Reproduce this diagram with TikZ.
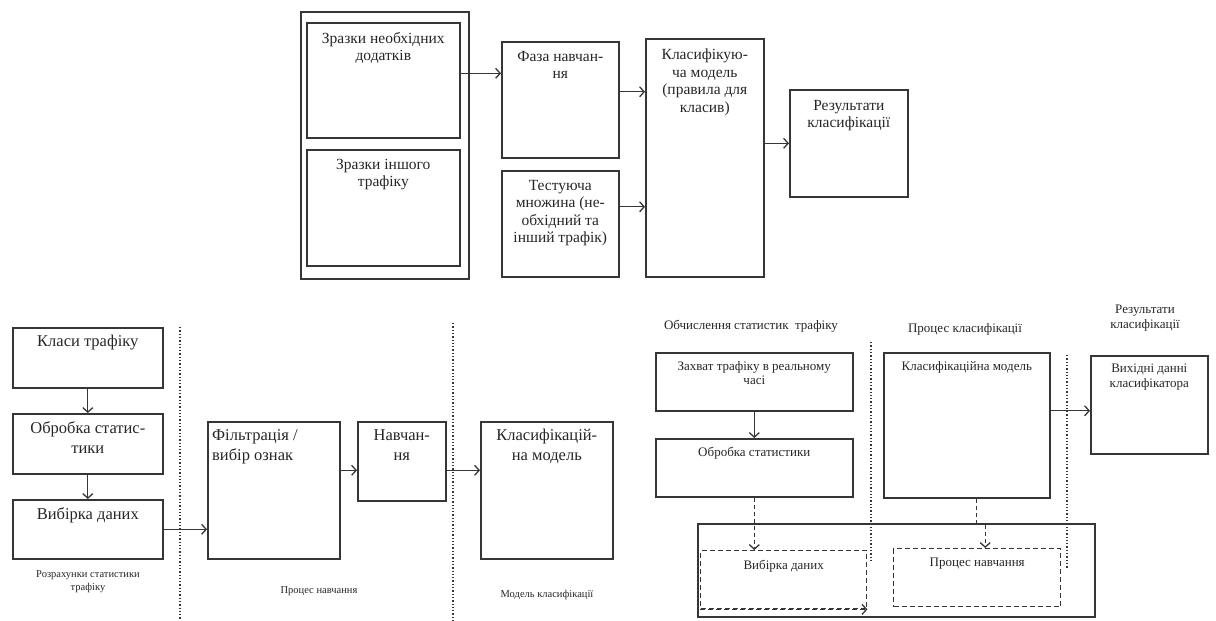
\documentclass[tikz,border=0pt]{standalone}
\usepackage{fontspec}
\setmainfont{Liberation Serif}
\usetikzlibrary{arrows.meta}
\definecolor{liniya}{HTML}{363636}
\definecolor{tekstc}{HTML}{262626}
\newcommand{\shriftverh}{\fontsize{15.5}{17.5}\selectfont}
\newcommand{\shriftlev}{\fontsize{16.5}{20}\selectfont}
\newcommand{\shriftprav}{\fontsize{13}{14.5}\selectfont}
\newcommand{\shriftmal}{\fontsize{10.5}{13}\selectfont}
\tikzset{
    blok/.style={draw=liniya, line width=1.6pt, anchor=north west, inner sep=0pt},
    pblok/.style={blok, line width=1.4pt, dash pattern=on 5pt off 3pt},
    napys/.style={anchor=north, align=center, inner sep=0pt, text=tekstc},
    pidpys/.style={anchor=base, align=center, inner sep=0pt, text=tekstc},
    strilka/.style={draw=liniya, line width=1.3pt, -{Straight Barb[length=4.5pt,width=10pt]}},
    rozdil/.style={draw=liniya, line width=1.3pt, dotted}
}

\begin{document}
\begin{tikzpicture}[x=1pt,y=-1pt]
           \useasboundingbox (0,0) rectangle (1216,621);
           % upper scheme
           \node[blok,minimum width=168pt,minimum height=267pt] (ramka) at (300,11) {};
           \node[blok,minimum width=153pt,minimum height=115pt] (zr1) at (306,22) {};
           \node[blok,minimum width=153pt,minimum height=116pt] (zr2) at (306,149) {};
           \node[blok,minimum width=117pt,minimum height=116pt] (faza) at (501,41) {};
           \node[blok,minimum width=117pt,minimum height=106pt] (test) at (501,170) {};
           \node[blok,minimum width=118pt,minimum height=238pt] (klas) at (645,38) {};
           \node[blok,minimum width=118pt,minimum height=107pt] (rez) at (789,89) {};
           \node[napys,font=\shriftverh] (zr1t) at ([yshift=-10pt]zr1.north) {Зразки необхідних\\додатків};
           \node[napys,font=\shriftverh] (zr2t) at ([yshift=-10pt]zr2.north) {Зразки іншого\\трафіку};
           \node[napys,font=\shriftverh] (fazat) at ([yshift=-10pt]faza.north) {Фаза навчан-\\ня};
           \node[napys,font=\shriftverh] (testt) at ([yshift=-10pt]test.north) {Тестуюча\\множина (не-\\обхідний та\\інший трафік)};
           \node[napys,font=\shriftverh] (klast) at ([yshift=-11pt]klas.north) {Класифікую-\\ча модель\\(правила для\\класив)};
           \node[napys,font=\shriftverh] (rezt) at ([yshift=-11pt]rez.north) {Результати\\класифікації};
           \draw[strilka] ([yshift=7pt]zr1.east) -- ([yshift=7pt]zr1.east -| faza.west);
           \draw[strilka] ([yshift=8pt]faza.east) -- ([yshift=8pt]faza.east -| klas.west);
           \draw[strilka] ([yshift=17pt]test.east) -- ([yshift=17pt]test.east -| klas.west);
           \draw[strilka] (rez.west -| klas.east) -- (rez.west);
           % lower left scheme
           \node[blok,minimum width=150pt,minimum height=60pt] (klasy) at (12,327) {};
           \node[blok,minimum width=150pt,minimum height=60pt] (obrob) at (12,413) {};
           \node[blok,minimum width=150pt,minimum height=59pt] (vybir) at (12,499) {};
           \node[blok,minimum width=132pt,minimum height=137pt] (filtr) at (207,421) {};
           \node[blok,minimum width=88pt,minimum height=79pt] (navch) at (357,421) {};
           \node[blok,minimum width=132pt,minimum height=137pt] (model) at (480,421) {};
           \node[napys,font=\shriftlev] (klasyt) at ([yshift=-8pt]klasy.north) {Класи трафіку};
           \node[napys,font=\shriftlev] (obrobt) at ([yshift=-8pt]obrob.north) {Обробка статис-\\тики};
           \node[napys,font=\shriftlev] (vybirt) at ([yshift=-8pt]vybir.north) {Вибірка даних};
           \node[napys,font=\shriftlev,anchor=north west,align=left] (filtrt) at ([xshift=5pt,yshift=-8pt]filtr.north west) {Фільтрація /\\вибір ознак};
           \node[napys,font=\shriftlev] (navcht) at ([yshift=-8pt]navch.north) {Навчан-\\ня};
           \node[napys,font=\shriftlev] (modelt) at ([yshift=-8pt]model.north) {Класифікацій-\\на модель};
           \draw[strilka] (klasy.south) -- (obrob.north);
           \draw[strilka] (obrob.south) -- (vybir.north);
           \draw[strilka] (vybir.east) -- (vybir.east -| filtr.west);
           \draw[strilka] ([yshift=-9pt]navch.west -| filtr.east) -- ([yshift=-9pt]navch.west);
           \draw[strilka] ([yshift=-9pt]navch.east) -- ([yshift=-9pt]navch.east -| model.west);
           \draw[rozdil] (180,327) -- (180,621);
           \draw[rozdil] (453,323) -- (453,621);
           \node[pidpys,font=\shriftmal] (rozrakh) at (88,590) {Розрахунки статистики\\трафіку};
           \node[pidpys,font=\shriftmal] (procn) at (319,593) {Процес навчання};
           \node[pidpys,font=\shriftmal] (modkl) at (547,597) {Модель класифікації};
           % lower right scheme
           \node[pidpys,font=\shriftprav] (obchysl) at (751,329) {Обчислення статистик\ \ трафіку};
           \node[pidpys,font=\shriftprav] (procklas) at (965,332) {Процес класифікації};
           \node[pidpys,font=\shriftprav] (rezklas) at (1145,328) {Результати\\класифікації};
           \node[blok,minimum width=197pt,minimum height=58pt] (zakhvat) at (655,352) {};
           \node[blok,minimum width=197pt,minimum height=58pt] (obst) at (655,438) {};
           \node[blok,minimum width=166pt,minimum height=145pt] (klmod) at (883,352) {};
           \node[blok,minimum width=117pt,minimum height=98pt] (vykhid) at (1090,355) {};
           \node[blok,minimum width=397pt,minimum height=93pt] (ramka2) at (697,523) {};
           \node[pblok,minimum width=166pt,minimum height=58pt] (vybd) at (700,550) {};
           \node[pblok,minimum width=167pt,minimum height=58pt] (navp) at (893,548) {};
           \node[napys,font=\shriftprav] (zakhvatt) at ([yshift=-9pt]zakhvat.north) {Захват трафіку в реальному\\часі};
           \node[napys,font=\shriftprav] (obstt) at ([yshift=-9pt]obst.north) {Обробка статистики};
           \node[napys,font=\shriftprav] (klmodt) at ([yshift=-9pt]klmod.north) {Класифікаційна модель};
           \node[napys,font=\shriftprav] (vykhidt) at ([yshift=-9pt]vykhid.north) {Вихідні данні\\класифікатора};
           \node[napys,font=\shriftprav] (vybdt) at ([yshift=-10pt]vybd.north) {Вибірка даних};
           \node[napys,font=\shriftprav] (navpt) at ([yshift=-10pt]navp.north) {Процес навчання};
           \draw[strilka] (zakhvat.south) -- (obst.south |- obst.north);
           \draw[strilka,dash pattern=on 4pt off 3pt] (obst.south) -- (obst.south |- vybd.north);
           \draw[strilka,dash pattern=on 5pt off 3pt] (vybd.south west) -- (vybd.south east);
           \draw[strilka,dash pattern=on 4pt off 3pt] ([xshift=10pt]klmod.south) -- ++(0,26) -| ([xshift=8pt]navp.north);
           \draw[strilka] ([yshift=-6pt]vykhid.west -| klmod.east) -- ([yshift=-6pt]vykhid.west);
           \draw[rozdil] (871,342) -- (871,560);
           \draw[rozdil] (1067,355) -- (1067,568);
         \end{tikzpicture}
\end{document}
